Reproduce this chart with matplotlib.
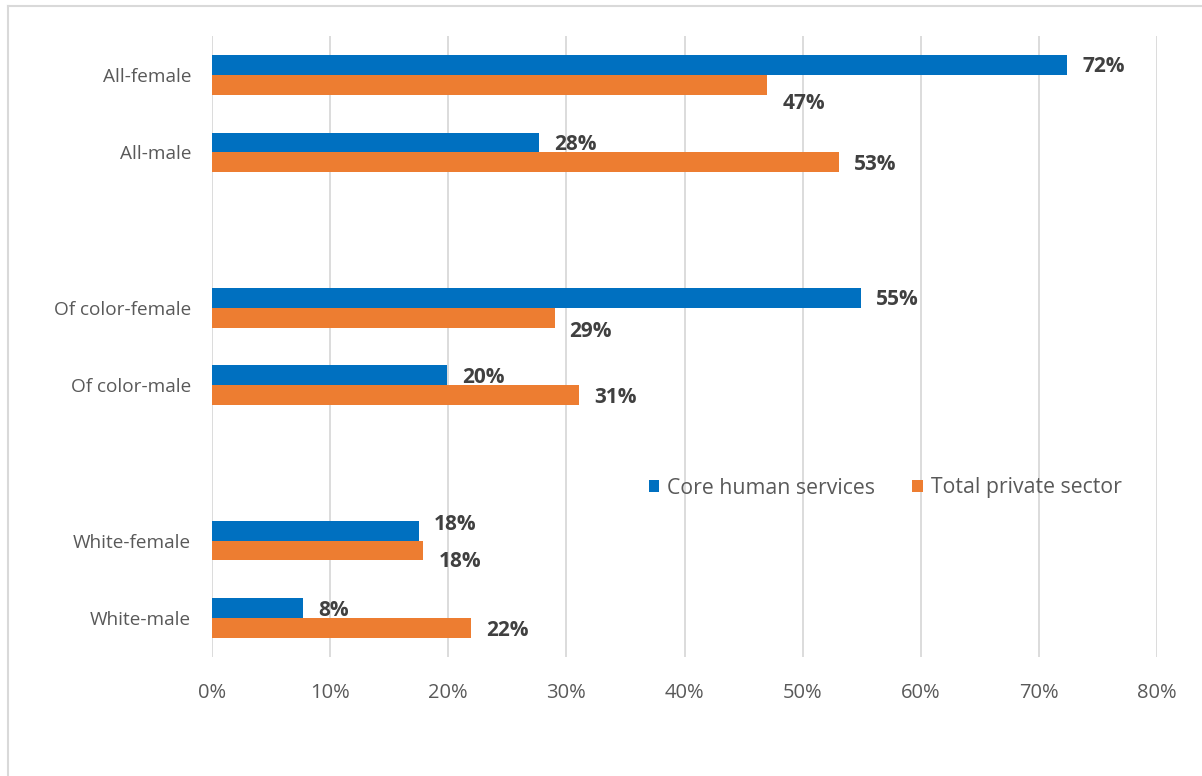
import matplotlib
matplotlib.use("Agg")
import matplotlib.pyplot as plt
from matplotlib.lines import Line2D
from matplotlib.patches import Patch
import numpy as np

# ---- data ----
categories = ["All-female", "All-male", "", "Of color-female", "Of color-male", "",
              "White-female", "White-male"]
core_human_services = [72.4, 27.7, None, 54.9, 19.9, None, 17.5, 7.7]
total_private_sector = [47.0, 53.1, None, 29.0, 31.1, None, 17.9, 21.9]
core_labels = ["72%", "28%", "", "55%", "20%", "", "18%", "8%"]
private_labels = ["47%", "53%", "", "29%", "31%", "", "18%", "22%"]
series_names = ["Core human services", "Total private sector"]
xticks = [0, 10, 20, 30, 40, 50, 60, 70, 80]
xtick_labels = ["0%", "10%", "20%", "30%", "40%", "50%", "60%", "70%", "80%"]

# ---- style ----
BLUE = "#0070C0"
ORANGE = "#ED7D31"
GRID = "#D9D9D9"
TICK = "#595959"
LABEL = "#404040"
FONT = "Open Sans"
FS_CAT = 13.7
FS_TICK = 14.5
FS_LAB = 15
FS_LEG = 15.3
# vertical nudges (in pixels, positive = down) for some data labels
core_nudge = [0, 0, 0, 0, 0, 0, -8, 0]
private_nudge = [17, 0, 0, 12, 0, 0, 9, 0]
BASE_NUDGE = 2

W, H = 1202, 776
fig = plt.figure(figsize=(W / 100, H / 100), dpi=100)
fig.patch.set_facecolor("white")

# outer border (top and left visible)
fig.add_artist(Line2D([8 / W, 1], [1 - 6 / H, 1 - 6 / H], color="#D9D9D9", lw=1.5))
fig.add_artist(Line2D([8 / W, 8 / W], [0, 1 - 6 / H], color="#D9D9D9", lw=1.5))

left, right = 212 / W, 1157 / W
top, bottom = 1 - 36 / H, 1 - 657 / H
ax = fig.add_axes([left, bottom, right - left, top - bottom])

n = len(categories)
y = np.arange(n)
bh = 0.256
for i in range(n):
    if core_human_services[i] is None:
        continue
    ax.barh(y[i] - bh / 2, core_human_services[i], height=bh, color=BLUE, zorder=3)
    ax.barh(y[i] + bh / 2, total_private_sector[i], height=bh, color=ORANGE, zorder=3)
    ax.annotate(core_labels[i], (core_human_services[i], y[i] - bh / 2),
                xytext=(15 * 0.72, -(core_nudge[i] + BASE_NUDGE) * 0.72),
                textcoords="offset points",
                ha="left", va="center", fontsize=FS_LAB, fontweight="bold",
                color=LABEL, family=FONT)
    ax.annotate(private_labels[i], (total_private_sector[i], y[i] + bh / 2),
                xytext=(15 * 0.72, -(private_nudge[i] + BASE_NUDGE) * 0.72),
                textcoords="offset points",
                ha="left", va="center", fontsize=FS_LAB, fontweight="bold",
                color=LABEL, family=FONT)

ax.set_ylim(n - 0.5, -0.5)
ax.set_xlim(0, 80)
ax.set_xticks(xticks)
ax.set_xticklabels(xtick_labels, color=TICK, fontsize=FS_TICK, family=FONT)
ax.set_yticks(y)
ax.set_yticklabels(categories, color=TICK, fontsize=FS_CAT, family=FONT)
ax.tick_params(axis="both", length=0)
ax.tick_params(axis="x", pad=19)
ax.tick_params(axis="y", pad=15)
ax.grid(axis="x", color=GRID, lw=1.3, zorder=0)
ax.grid(axis="y", visible=False)
for s in ax.spines.values():
    s.set_visible(False)

handles = [Patch(facecolor=BLUE, edgecolor="none"), Patch(facecolor=ORANGE, edgecolor="none")]
leg = fig.legend(handles, series_names, loc="center left",
                 bbox_to_anchor=(640 / W, 1 - 488 / H), ncol=2, frameon=False,
                 prop={"family": FONT, "size": FS_LEG}, handlelength=0.48, handleheight=0.48,
                 handletextpad=0.4, columnspacing=1.75, borderaxespad=0)
for t in leg.get_texts():
    t.set_color(TICK)

fig.savefig("out.png", dpi=100, facecolor="white")
